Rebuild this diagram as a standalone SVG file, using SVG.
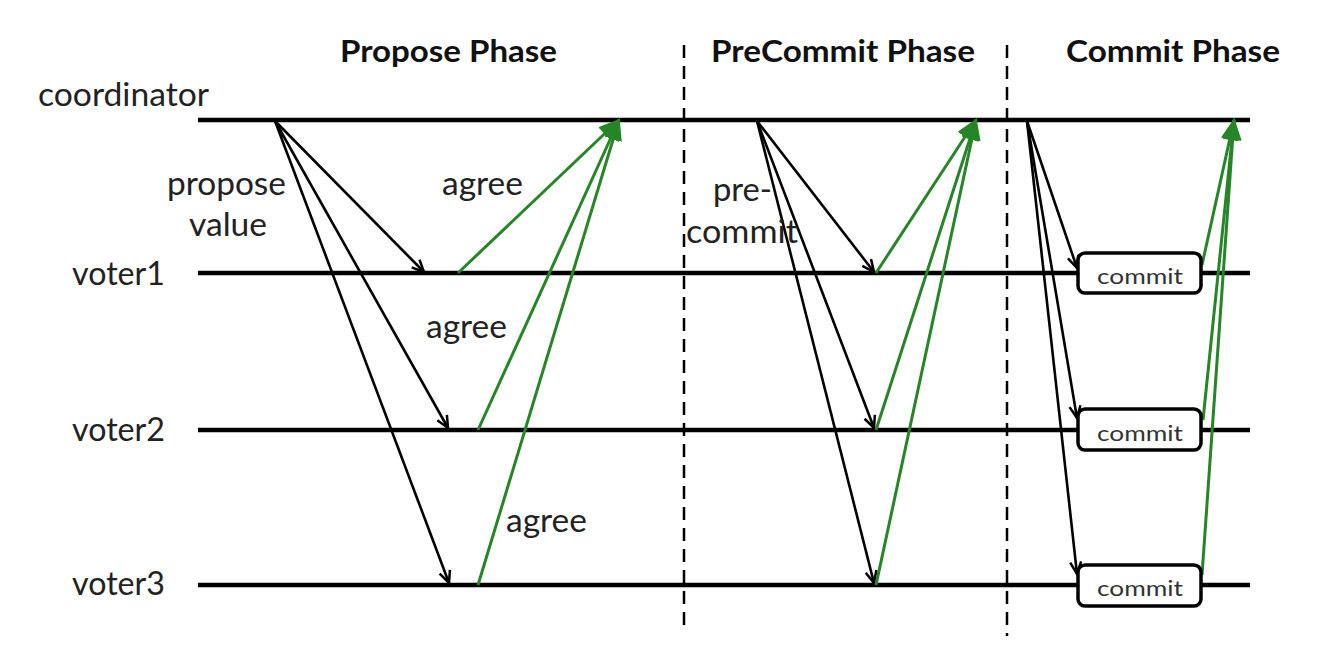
<svg xmlns="http://www.w3.org/2000/svg" width="1326" height="664" viewBox="0 0 1326 664">
<style>
.bg{fill:#ffffff}
.life{stroke:#000;stroke-width:4.5;fill:none}
.lbl{font-family:Lato,"Open Sans","Liberation Sans",sans-serif;font-size:32px;fill:#222}
.ttl{font-family:Lato,"Open Sans","Liberation Sans",sans-serif;font-size:31px;font-weight:bold;fill:#111}
.box{fill:#fff;stroke:#000;stroke-width:3.5}
.btxt{font-family:Lato,"Open Sans","Liberation Sans",sans-serif;font-size:22px;fill:#333;text-anchor:middle}
.div{stroke:#000;stroke-width:2.5;stroke-dasharray:13 8;fill:none}
.msg{stroke:#000;stroke-width:2.6;fill:none;marker-end:url(#ah)}
.ack{stroke:#268526;stroke-width:3;fill:none;marker-end:url(#gh)}
</style>
<defs>
<marker id="ah" markerUnits="userSpaceOnUse" markerWidth="16" markerHeight="14" refX="13" refY="6" orient="auto" viewBox="0 0 16 12">
<path d="M1,0.5 L13,6 L1,11.5" fill="none" stroke="#000" stroke-width="2.5" stroke-linejoin="miter"/>
</marker>
<marker id="gh" markerUnits="userSpaceOnUse" markerWidth="22" markerHeight="18" refX="20" refY="9" orient="auto" viewBox="0 0 22 18">
<polygon points="0,0 22,9 0,18" fill="#268526"/>
</marker>
</defs>
<rect class="bg" x="0" y="0" width="1326" height="664"/>

<g id="phases">
<text class="ttl" x="340" y="62" textLength="217" lengthAdjust="spacingAndGlyphs">Propose Phase</text>
<text class="ttl" x="711" y="62" textLength="264" lengthAdjust="spacingAndGlyphs">PreCommit Phase</text>
<text class="ttl" x="1066" y="62" textLength="214" lengthAdjust="spacingAndGlyphs">Commit Phase</text>
<line class="div" x1="684" y1="45" x2="684" y2="626"/>
<line class="div" x1="1007" y1="45" x2="1007" y2="636"/>
</g>

<g id="coordinator">
<text class="lbl" x="38" y="106" textLength="171" lengthAdjust="spacingAndGlyphs">coordinator</text>
<line class="life" x1="198" y1="120" x2="1250" y2="120"/>
</g>
<g id="voter1">
<text class="lbl" x="72" y="285" textLength="93" lengthAdjust="spacingAndGlyphs">voter1</text>
<line class="life" x1="198" y1="273" x2="1250" y2="273"/>
</g>
<g id="voter2">
<text class="lbl" x="72" y="441" textLength="93" lengthAdjust="spacingAndGlyphs">voter2</text>
<line class="life" x1="198" y1="430" x2="1250" y2="430"/>
</g>
<g id="voter3">
<text class="lbl" x="72" y="595" textLength="93" lengthAdjust="spacingAndGlyphs">voter3</text>
<line class="life" x1="198" y1="585" x2="1250" y2="585"/>
</g>

<g id="connectors">
<line class="msg" x1="275" y1="121" x2="424" y2="272"/>
<line class="msg" x1="275" y1="121" x2="448" y2="428"/>
<line class="msg" x1="275" y1="121" x2="449" y2="583"/>
<line class="ack" x1="458" y1="273" x2="619" y2="120"/>
<line class="ack" x1="478" y1="430" x2="619" y2="120"/>
<line class="ack" x1="478" y1="585" x2="619" y2="120"/>

<line class="msg" x1="757" y1="121" x2="874" y2="272"/>
<line class="msg" x1="757" y1="121" x2="874" y2="428"/>
<line class="msg" x1="757" y1="121" x2="874" y2="583"/>
<line class="ack" x1="876" y1="273" x2="976" y2="120"/>
<line class="ack" x1="876" y1="430" x2="976" y2="120"/>
<line class="ack" x1="876" y1="585" x2="976" y2="120"/>

<line class="msg" x1="1027" y1="121" x2="1077" y2="268"/>
<line class="msg" x1="1027" y1="121" x2="1077" y2="418"/>
<line class="msg" x1="1027" y1="121" x2="1077" y2="574"/>
<line class="ack" x1="1202" y1="265" x2="1234" y2="120"/>
<line class="ack" x1="1203" y1="420" x2="1234" y2="120"/>
<line class="ack" x1="1202" y1="575" x2="1234" y2="120"/>

<text class="lbl" x="167" y="195" textLength="119" lengthAdjust="spacingAndGlyphs">propose</text>
<text class="lbl" x="189" y="236" textLength="78" lengthAdjust="spacingAndGlyphs">value</text>
<text class="lbl" x="442" y="195" textLength="81" lengthAdjust="spacingAndGlyphs">agree</text>
<text class="lbl" x="426" y="338" textLength="81" lengthAdjust="spacingAndGlyphs">agree</text>
<text class="lbl" x="506" y="532" textLength="81" lengthAdjust="spacingAndGlyphs">agree</text>
<text class="lbl" x="713" y="201" textLength="59" lengthAdjust="spacingAndGlyphs">pre-</text>
<text class="lbl" x="686" y="243" textLength="112" lengthAdjust="spacingAndGlyphs">commit</text>
</g>

<g id="commit1">
<rect class="box" x="1078" y="253" width="123" height="40" rx="7"/>
<text class="btxt" x="1140" y="284" textLength="86" lengthAdjust="spacingAndGlyphs">commit</text>
</g>
<g id="commit2">
<rect class="box" x="1078" y="409" width="123" height="41" rx="7"/>
<text class="btxt" x="1140" y="441" textLength="86" lengthAdjust="spacingAndGlyphs">commit</text>
</g>
<g id="commit3">
<rect class="box" x="1078" y="565" width="123" height="41" rx="7"/>
<text class="btxt" x="1140" y="596" textLength="86" lengthAdjust="spacingAndGlyphs">commit</text>
</g>
</svg>
